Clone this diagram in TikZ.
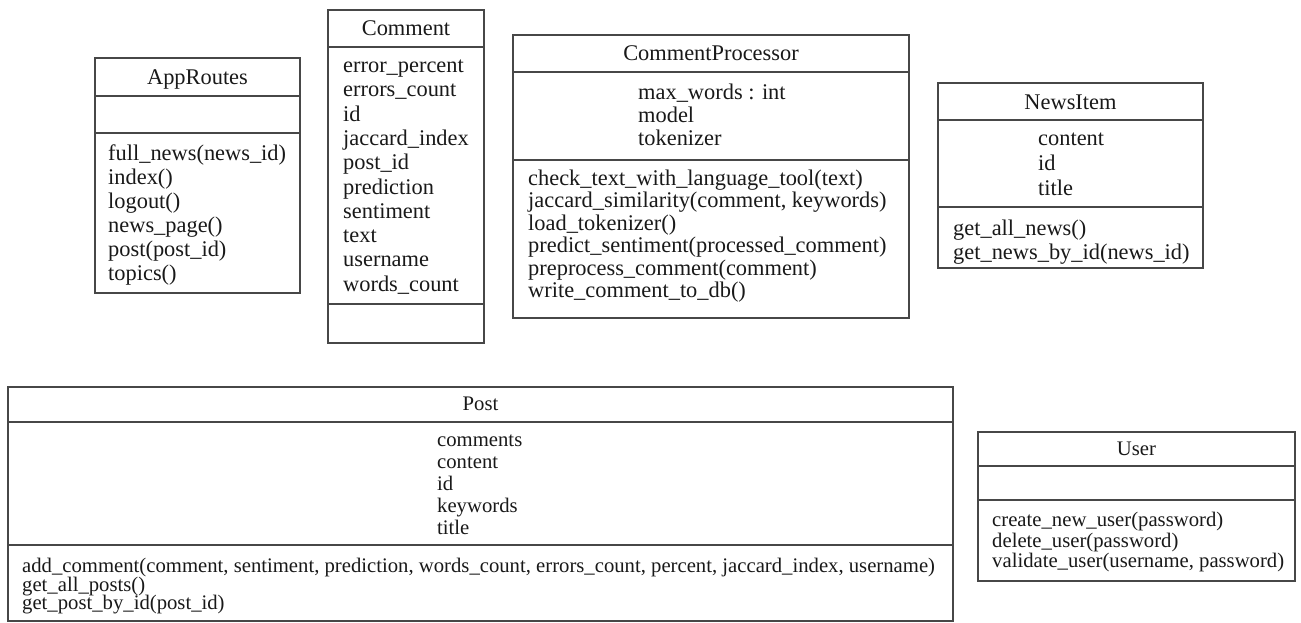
\documentclass[tikz,border=0pt]{standalone}
\usepackage{fontspec}
\setmainfont{Liberation Serif}
\begin{document}
\begin{tikzpicture}[x=1pt,y=-1pt,
  frame/.style={draw=black!72, line width=1.3pt, inner sep=0pt, outer sep=0pt},
  sep/.style={draw=black!72, line width=1.3pt},
  txt/.style={inner sep=0pt, anchor=west, text height=14.5pt, text depth=4.5pt, text=black!90, yshift=-2.5pt},
  big/.style={font=\fontsize{22.4}{24}\selectfont},
  small/.style={font=\fontsize{20.7}{22}\selectfont},
  ttl/.style={txt, anchor=center}]
\useasboundingbox[fill=white] (0,0) rectangle (1301,623);

% AppRoutes
\node[frame, minimum width=205pt, minimum height=235pt] (approutes) at (197.5,175.5) {};
\draw[sep] (95,96) -- (300,96);
\draw[sep] (95,133) -- (300,133);
\node[ttl,big] (approutes-t) at (197.5,77) {AppRoutes};
\foreach \s [count=\i from 0] in {full\_news(news\_id), index(), logout(), news\_page(), post(post\_id), topics()}
  \node[txt,big] (approutes-m\i) at (108,{153+24*\i}) {\s};

% Comment
\node[frame, minimum width=156pt, minimum height=333pt] (comment) at (406,176.5) {};
\draw[sep] (328,47) -- (484,47);
\draw[sep] (328,304) -- (484,304);
\node[ttl,big] (comment-t) at (406,28) {Comment};
\foreach \s [count=\i from 0] in {error\_percent, errors\_count, id, jaccard\_index, post\_id, prediction, sentiment, text, username, words\_count}
  \node[txt,big] (comment-a\i) at (343,{65+24.3*\i}) {\s};

% CommentProcessor
\node[frame, minimum width=396pt, minimum height=283pt] (cproc) at (711,176.5) {};
\draw[sep] (513,72) -- (909,72);
\draw[sep] (513,160) -- (909,160);
\node[ttl,big] (cproc-t) at (711,53) {CommentProcessor};
\foreach \s [count=\i from 0] in {max\_words : int, model, tokenizer}
  \node[txt,big] (cproc-a\i) at (638,{92+23*\i}) {\s};
\foreach \s [count=\i from 0] in {check\_text\_with\_language\_tool(text), {jaccard\_similarity(comment, keywords)}, load\_tokenizer(), predict\_sentiment(processed\_comment), preprocess\_comment(comment), write\_comment\_to\_db()}
  \node[txt,big] (cproc-m\i) at (528,{178+22.4*\i}) {\s};

% NewsItem
\node[frame, minimum width=265pt, minimum height=185pt] (news) at (1070.5,175.5) {};
\draw[sep] (938,120) -- (1203,120);
\draw[sep] (938,207) -- (1203,207);
\node[ttl,big] (news-t) at (1070.5,102) {NewsItem};
\foreach \s [count=\i from 0] in {content, id, title}
  \node[txt,big] (news-a\i) at (1038,{138+25*\i}) {\s};
\foreach \s [count=\i from 0] in {get\_all\_news(), get\_news\_by\_id(news\_id)}
  \node[txt,big] (news-m\i) at (953,{228+24*\i}) {\s};

% Post
\node[frame, minimum width=945pt, minimum height=234pt] (post) at (480.5,504) {};
\draw[sep] (8,422) -- (953,422);
\draw[sep] (8,545) -- (953,545);
\node[ttl,small] (post-t) at (480.5,403) {Post};
\foreach \s [count=\i from 0] in {comments, content, id, keywords, title}
  \node[txt,small] (post-a\i) at (437,{439+22*\i}) {\s};
\foreach \s [count=\i from 0] in {{add\_comment(comment, sentiment, prediction, words\_count, errors\_count, percent, jaccard\_index, username)}, get\_all\_posts(), get\_post\_by\_id(post\_id)}
  \node[txt,small] (post-m\i) at (22,{565+18.5*\i}) {\s};

% User
\node[frame, minimum width=317pt, minimum height=149pt] (user) at (1136.5,506.5) {};
\draw[sep] (978,466) -- (1295,466);
\draw[sep] (978,500) -- (1295,500);
\node[ttl,small] (user-t) at (1136.5,448) {User};
\foreach \s [count=\i from 0] in {create\_new\_user(password), delete\_user(password), {validate\_user(username, password)}}
  \node[txt,small] (user-m\i) at (992,{519+20.5*\i}) {\s};
\end{tikzpicture}
\end{document}
